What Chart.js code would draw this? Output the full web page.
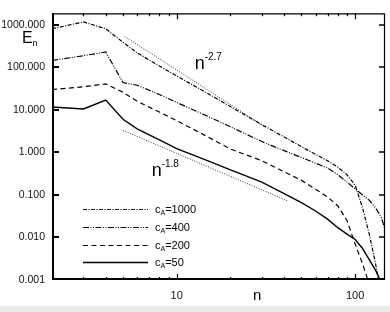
<!DOCTYPE html>
<html>
<head>
<meta charset="utf-8">
<script src="https://cdn.jsdelivr.net/npm/chart.js@4.4.1/dist/chart.umd.min.js"></script>
<style>
  html, body { margin: 0; padding: 0; background: #fff; }
  #wrap { width: 390px; height: 312px; position: relative; }
</style>
</head>
<body>
<div id="wrap"><canvas id="chart"></canvas></div>
<script>
// n values shared by the four spectra
const nValues = [2, 3, 4, 5, 6, 8, 10, 15, 20, 30, 40, 50, 60, 70, 80, 90, 100, 110, 120, 130, 140, 150];

// E_n for each c_A
const e1000 = [810, 1170, 810, 390, 220, 108, 63, 24, 12, 4.5, 2.3, 1.37, 0.9, 0.64, 0.45, 0.3, 0.17, 0.05, 0.012, 0.0025, 0.0004, null];
const e400 = [145, 188, 230, 44, 38, 23, 15, 7.0, 4.0, 1.8, 1.1, 0.76, 0.56, 0.43, 0.3, 0.2, 0.14, 0.1, 0.075, 0.05, 0.03, 0.012];
const e200 = [30, 35, 41, 26, 16, 8.9, 5.6, 2.3, 1.2, 0.64, 0.35, 0.22, 0.136, 0.09, 0.055, 0.025, 0.007, 0.0024, 0.0008, null, null, null];
const e50 = [11.7, 10.5, 17, 6, 3.6, 1.97, 1.23, 0.63, 0.39, 0.2, 0.107, 0.066, 0.042, 0.027, 0.017, 0.012, 0.009, 0.0055, 0.003, 0.0017, 0.0009, null];

// dotted power-law guide lines
const steepN = [5.1, 31];
const steepE = [534, 4.1];
const shallowN = [5, 42];
const shallowE = [3.3, 0.072];

// axes
const yTicks = [0.001, 0.01, 0.1, 1, 10, 100, 1000];
const xMajorTicks = [10, 100];
const xMinorTicks = [2, 3, 4, 5, 6, 7, 8, 9, 20, 30, 40, 50, 60, 70, 80, 90];

// legend + guide labels
const legendValues = ['1000', '400', '200', '50'];
const guideLabels = [
  { exp: '-2.7', n: 12.6, e: 90 },
  { exp: '-1.8', n: 7.24, e: 0.285 }
];

const FONT = '"Liberation Sans", Arial, Helvetica, sans-serif';
const dashes = [[4, 1.5, 1, 1.5], [6, 1.5, 1, 1.5, 1, 1.5], [5, 3.5], []];

const toPoints = (xs, ys) => xs.map((x, i) => ({ x: x, y: ys[i] }));

const curveSets = [e1000, e400, e200, e50].map((vals, i) => ({
  label: 'cA=' + legendValues[i],
  data: toPoints(nValues, vals),
  borderColor: '#000',
  borderWidth: i === 3 ? 1.4 : 1.2,
  borderDash: dashes[i],
  pointRadius: 0,
  fill: false,
  tension: 0
}));

const guideSets = [[steepN, steepE], [shallowN, shallowE]].map(([xs, ys]) => ({
  label: 'guide',
  data: toPoints(xs, ys),
  borderColor: '#333',
  borderWidth: 1,
  borderDash: [1, 1.5],
  pointRadius: 0,
  fill: false
}));

const framePlugin = {
  id: 'frame',
  beforeDraw(chart) {
    const ctx = chart.ctx;
    ctx.save();
    ctx.fillStyle = '#ececec';
    ctx.fillRect(0, 306, chart.width, chart.height - 306);
    ctx.restore();
  },
  afterDraw(chart) {
    const { ctx, chartArea: a, scales } = chart;
    const xs = scales.x, ys = scales.y;
    ctx.save();
    ctx.strokeStyle = '#000';
    ctx.lineCap = 'butt';

    // top and right thin
    ctx.lineWidth = 1.2;
    ctx.beginPath();
    ctx.moveTo(a.left, a.top + 0.5);
    ctx.lineTo(a.right - 0.5, a.top + 0.5);
    ctx.lineTo(a.right - 0.5, a.bottom);
    ctx.stroke();
    // left and bottom thick
    ctx.lineWidth = 2;
    ctx.beginPath();
    ctx.moveTo(a.left + 1, a.top);
    ctx.lineTo(a.left + 1, a.bottom - 1);
    ctx.lineTo(a.right, a.bottom - 1);
    ctx.stroke();

    // y ticks, inward on both sides
    yTicks.forEach(v => {
      const py = Math.round(ys.getPixelForValue(v));
      if (py < a.top + 2 || py > a.bottom - 2) return;
      ctx.lineWidth = 2;
      ctx.beginPath();
      ctx.moveTo(a.left, py);
      ctx.lineTo(a.left + 7, py);
      ctx.stroke();
      ctx.lineWidth = 1.5;
      ctx.beginPath();
      ctx.moveTo(a.right, py);
      ctx.lineTo(a.right - 6, py);
      ctx.stroke();
    });

    // x ticks, inward top and bottom
    const xTick = (v, len) => {
      const px = Math.round(xs.getPixelForValue(v)) + 0.5;
      if (px < a.left + 3 || px > a.right - 2) return;
      ctx.lineWidth = 1.2;
      ctx.beginPath();
      ctx.moveTo(px, a.bottom);
      ctx.lineTo(px, a.bottom - len);
      ctx.moveTo(px, a.top);
      ctx.lineTo(px, a.top + len);
      ctx.stroke();
    };
    xMinorTicks.forEach(v => xTick(v, 3));
    xMajorTicks.forEach(v => xTick(v, 6));

    ctx.fillStyle = '#000';
    ctx.textBaseline = 'alphabetic';

    // guide labels n^exp
    guideLabels.forEach(g => {
      const px = xs.getPixelForValue(g.n);
      const py = ys.getPixelForValue(g.e);
      ctx.font = '18px ' + FONT;
      ctx.textAlign = 'left';
      ctx.fillText('n', px, py);
      const w = ctx.measureText('n').width;
      ctx.font = '10px ' + FONT;
      ctx.fillText(g.exp, px + w, py - 9);
    });

    // y title E_n
    ctx.font = '16px ' + FONT;
    ctx.fillText('E', 22, 43);
    ctx.font = '9px ' + FONT;
    ctx.fillText('n', 32.5, 46);

    // x title n
    ctx.font = '15px ' + FONT;
    ctx.fillText('n', 253, 300);

    // legend
    const rowTop = a.top + 196;
    const rowStep = 17.7;
    legendValues.forEach((val, i) => {
      const ry = Math.round(rowTop + i * rowStep) + 0.5;
      ctx.lineWidth = i === 3 ? 1.4 : 1.2;
      ctx.setLineDash(dashes[i]);
      ctx.beginPath();
      ctx.moveTo(a.left + 31, ry);
      ctx.lineTo(a.left + 96, ry);
      ctx.stroke();
      ctx.setLineDash([]);
      let tx = a.left + 103;
      ctx.font = '11px ' + FONT;
      ctx.fillText('c', tx, ry + 3.5);
      tx += ctx.measureText('c').width;
      ctx.font = '7px ' + FONT;
      ctx.fillText('A', tx, ry + 5.5);
      tx += ctx.measureText('A').width;
      ctx.font = '11px ' + FONT;
      ctx.fillText('=' + val, tx, ry + 3.5);
    });
    ctx.restore();
  }
};

new Chart(document.getElementById('chart'), {
  type: 'line',
  data: { datasets: curveSets.concat(guideSets) },
  options: {
    responsive: true,
    maintainAspectRatio: false,
    animation: false,
    events: [],
    layout: { padding: { left: 0, top: 4, right: 5, bottom: 0 } },
    plugins: { legend: { display: false }, tooltip: { enabled: false } },
    scales: {
      x: {
        type: 'logarithmic',
        min: 2,
        max: 147,
        grid: { display: false, drawTicks: false },
        border: { display: false },
        afterBuildTicks: s => { s.ticks = xMinorTicks.concat(xMajorTicks).sort((p, q) => p - q).map(v => ({ value: v })); },
        afterFit: s => { s.height = 32; },
        ticks: {
          autoSkip: false,
          maxRotation: 0,
          padding: 9,
          color: '#111',
          font: { family: FONT, size: 11 },
          callback: v => (xMajorTicks.includes(v) ? String(v) : '')
        }
      },
      y: {
        type: 'logarithmic',
        min: 0.001,
        max: 1870,
        grid: { display: false, drawTicks: false },
        border: { display: false },
        afterBuildTicks: s => { s.ticks = yTicks.map(v => ({ value: v })); },
        afterFit: s => { s.width = 52; },
        ticks: {
          autoSkip: false,
          padding: 7,
          color: '#111',
          font: { family: FONT, size: 10.5 },
          callback: v => Number(v).toFixed(3)
        }
      }
    }
  },
  plugins: [framePlugin]
});
</script>
</body>
</html>
